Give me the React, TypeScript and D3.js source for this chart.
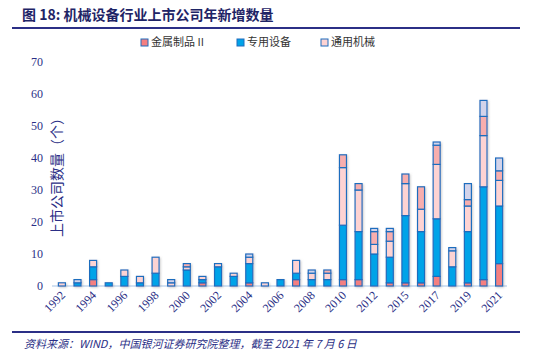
import { useEffect, useRef } from "react";
import * as d3 from "d3";

// years on the x axis (2013 has no data: IPO pause)
const years = [
  "1992", "1993", "1994", "1995", "1996", "1997", "1998", "1999", "2000", "2001",
  "2002", "2003", "2004", "2005", "2006", "2007", "2008", "2009", "2010", "2011",
  "2012", "2014", "2015", "2016", "2017", "2018", "2019", "2020", "2021",
];

// 金属制品II
const metal = [0, 0, 2, 0, 0, 0, 0, 0, 0, 1, 0, 0, 1, 0, 0, 2, 0, 0, 2, 2, 0, 1, 1, 1, 3, 0, 1, 2, 7];
// 专用设备
const special = [0, 1, 4, 1, 3, 1, 4, 0, 5, 1, 6, 3, 6, 0, 2, 2, 2, 2, 17, 15, 10, 8, 21, 16, 18, 6, 16, 29, 18];
// 通用机械
const general = [1, 0, 2, 0, 2, 2, 5, 1, 1, 1, 1, 1, 2, 1, 0, 4, 2, 2, 18, 13, 3, 5, 10, 7, 17, 5, 8, 16, 8];
// other sub-industries (not in legend)
const other1 = [0, 0, 0, 0, 0, 0, 0, 0, 1, 0, 0, 0, 0, 0, 0, 0, 0, 1, 4, 2, 4, 3, 3, 7, 6, 0, 2, 6, 3];
const other2 = [0, 1, 0, 0, 0, 0, 0, 1, 0, 0, 0, 0, 1, 0, 0, 0, 1, 0, 0, 0, 1, 1, 0, 0, 1, 1, 5, 5, 4];

const yTicks = [0, 10, 20, 30, 40, 50, 60, 70];

const seriesKeys = ["metal", "special", "general", "other1", "other2"];
const colors: Record<string, string> = {
  metal: "#F47F80",
  special: "#00A3E8",
  general: "#FDD3D3",
  other1: "#F7AEAE",
  other2: "#D2D3EA",
};
const legend = [
  { key: "metal", label: "金属制品 II", x: 141 },
  { key: "special", label: "专用设备", x: 237 },
  { key: "general", label: "通用机械", x: 321 },
];

const navy = "#2B2F86";

export default function App() {
  const ref = useRef<SVGSVGElement>(null);

  useEffect(() => {
    if (!ref.current) return;
    const svg = d3.select(ref.current);
    svg.selectAll("*").remove();

    const width = 543;
    const height = 362;
    const margin = { top: 62, right: 36, bottom: 76, left: 54 };

    const table = years.map((y, i) => ({
      year: y,
      metal: metal[i],
      special: special[i],
      general: general[i],
      other1: other1[i],
      other2: other2[i],
    }));

    const x = d3.scaleBand()
      .domain(years)
      .range([margin.left, width - margin.right])
      .paddingInner(0.55)
      .paddingOuter(0.28);

    const y = d3.scaleLinear()
      .domain([0, 70])
      .range([height - margin.bottom, margin.top]);

    const stack = d3.stack<any>().keys(seriesKeys)(table);

    const defs = svg.append("defs");
    const f = defs.append("filter").attr("id", "sh").attr("x", "-50%").attr("y", "-10%").attr("width", "200%").attr("height", "130%");
    f.append("feDropShadow").attr("dx", 1).attr("dy", 1).attr("stdDeviation", 1).attr("flood-color", "#999").attr("flood-opacity", 0.5);

    // title
    svg.append("text")
      .attr("x", 22).attr("y", 20)
      .attr("font-family", "'Noto Sans CJK SC', sans-serif")
      .attr("font-size", 14).attr("font-weight", "bold")
      .attr("fill", "#1E2466")
      .text("图 18:  机械设备行业上市公司年新增数量");
    svg.append("line")
      .attr("x1", 12).attr("x2", 520).attr("y1", 28).attr("y2", 28)
      .attr("stroke", navy).attr("stroke-width", 2);

    // legend
    const lg = svg.append("g").selectAll("g").data(legend).join("g")
      .attr("transform", d => `translate(${d.x},44)`);
    lg.append("rect")
      .attr("x", 0).attr("y", -5).attr("width", 7).attr("height", 7)
      .attr("fill", d => colors[d.key]).attr("stroke", "#1F6DBE").attr("stroke-width", 1);
    lg.append("text")
      .attr("x", 10).attr("y", 2)
      .attr("font-family", "'Noto Sans CJK SC', sans-serif")
      .attr("font-size", 11).attr("fill", "#333")
      .text(d => d.label);

    // y axis ticks
    svg.append("g").selectAll("text").data(yTicks).join("text")
      .attr("x", 43).attr("y", d => y(d) + 4)
      .attr("text-anchor", "end")
      .attr("font-family", "'Liberation Serif', serif")
      .attr("font-size", 12).attr("fill", navy)
      .text(d => d);

    svg.append("text")
      .attr("transform", `translate(62,${y(35)}) rotate(-90)`)
      .attr("text-anchor", "middle")
      .attr("font-family", "'Noto Sans CJK SC', sans-serif")
      .attr("font-size", 14).attr("fill", navy)
      .text("上市公司数量（个）");

    // baseline
    svg.append("line")
      .attr("x1", margin.left - 2).attr("x2", width - margin.right)
      .attr("y1", y(0)).attr("y2", y(0))
      .attr("stroke", "#C3D7EE").attr("stroke-width", 1.5);

    // bars
    const bars = svg.append("g").attr("filter", "url(#sh)");
    stack.forEach(layer => {
      bars.append("g").selectAll("rect")
        .data(layer.filter(d => d[1] - d[0] > 0))
        .join("rect")
        .attr("x", d => x(d.data.year)!)
        .attr("y", d => y(d[1]))
        .attr("width", x.bandwidth())
        .attr("height", d => y(d[0]) - y(d[1]))
        .attr("fill", colors[layer.key])
        .attr("stroke", "#1F6DBE")
        .attr("stroke-width", 1.2);
    });

    // x labels, every other category
    svg.append("g").selectAll("text")
      .data(years.filter((_, i) => i % 2 === 0))
      .join("text")
      .attr("transform", d => `translate(${x(d)! + x.bandwidth() / 2 + 4},${y(0) + 10}) rotate(-45)`)
      .attr("text-anchor", "end")
      .attr("font-family", "'Liberation Serif', serif")
      .attr("font-size", 12).attr("fill", navy)
      .text(d => d);

    // footer
    svg.append("line")
      .attr("x1", 12).attr("x2", 520).attr("y1", 332).attr("y2", 332)
      .attr("stroke", navy).attr("stroke-width", 2);
    svg.append("text")
      .attr("x", 24).attr("y", 348)
      .attr("font-family", "'Noto Sans CJK SC', sans-serif")
      .attr("font-size", 11).attr("font-style", "italic")
      .attr("fill", navy)
      .text("资料来源：WIND，中国银河证券研究院整理，截至 2021 年 7 月 6 日");
  }, []);

  return (
    <svg ref={ref} width={543} height={362}
      style={{ position: "absolute", left: 0, top: 0, background: "#fff" }} />
  );
}
